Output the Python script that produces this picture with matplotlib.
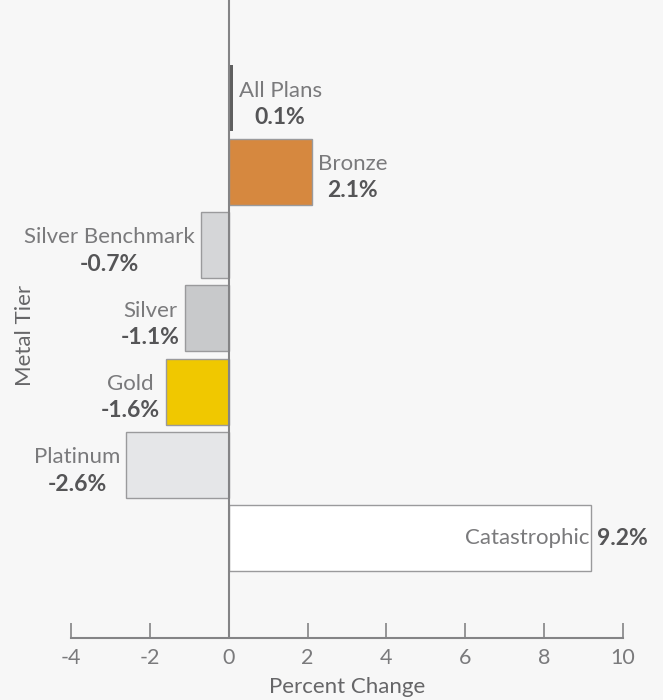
import numpy as np
import matplotlib.pyplot as plt

# Datos del gráfico
tiers = ['All Plans', 'Bronze', 'Silver Benchmark', 'Silver', 'Gold', 'Platinum', 'Catastrophic']
changes = [0.1, 2.1, -0.7, -1.1, -1.6, -2.6, 9.2]
bar_colors = ['#5f5f5f', '#d6883f', '#d5d6d8', '#c8c9cb', '#f0c800', '#e5e6e8', '#ffffff']
x_ticks = [-4, -2, 0, 2, 4, 6, 8, 10]

BG = '#f7f7f7'
NAME_COLOR = '#7a7a7c'
VALUE_COLOR = '#555557'
AXIS_COLOR = '#848486'
NAME_FS = 16
VALUE_FS = 16.5

plt.rcParams['font.family'] = ['Lato', 'DejaVu Sans']

fig = plt.figure(figsize=(6.63, 7.0), dpi=100, facecolor=BG)
ax = fig.add_axes([0, 62 / 700, 1, 638 / 700], facecolor=BG)

px_per_unit = 552 / 14
ax.set_xlim(-4 - 71 / px_per_unit, 10 + 40 / px_per_unit)
ax.set_ylim(7.36, -1.34)

renderer = fig.canvas.get_renderer()
blocks = []

for i, (name, val, col) in enumerate(zip(tiers, changes, bar_colors)):
    if name == 'All Plans':
        ax.barh(i, val, height=0.9, color=col, edgecolor='none', zorder=2)
    else:
        ax.barh(i, val, height=0.9, color=col, edgecolor='#9a9a9c', linewidth=1, zorder=2)

    label = f'{val:.1f}%'
    if name == 'Catastrophic':
        ax.text(val - 0.05, i, name, ha='right', va='center', fontsize=NAME_FS, color=NAME_COLOR)
        ax.text(val + 0.13, i, label, ha='left', va='center', fontsize=VALUE_FS,
                fontweight='bold', color=VALUE_COLOR)
        continue

    t_name = ax.text(val, i - 0.02, name, ha='center', va='baseline', fontsize=NAME_FS,
                     color=NAME_COLOR)
    t_val = ax.text(val, i + 0.12, label, ha='center', va='top', fontsize=VALUE_FS,
                    fontweight='bold', color=VALUE_COLOR)
    blocks.append((val, t_name, t_val))

# Colocar cada bloque de dos líneas junto al final de la barra
for val, t_name, t_val in blocks:
    w = max(t_name.get_window_extent(renderer).width,
            t_val.get_window_extent(renderer).width) / px_per_unit
    gap = 6 / px_per_unit
    cx = val + gap + w / 2 if val >= 0 else val - gap - w / 2
    t_name.set_x(cx)
    t_val.set_x(cx)

# Línea vertical en cero
ax.axvline(0, color=AXIS_COLOR, linewidth=1.5, zorder=3)

# Ejes
for side in ['left', 'right', 'top']:
    ax.spines[side].set_visible(False)
ax.spines['bottom'].set_bounds(-4, 10)
ax.spines['bottom'].set_color(AXIS_COLOR)
ax.spines['bottom'].set_linewidth(1.5)
ax.set_xticks(x_ticks)
ax.set_xticklabels([str(v) for v in x_ticks])
ax.tick_params(axis='x', direction='in', length=11, width=1.2, color=AXIS_COLOR,
               labelsize=15.5, labelcolor=NAME_COLOR, pad=7)
ax.set_yticks([])

fig.text(347 / 663, 3 / 700, 'Percent Change', ha='center', va='bottom', fontsize=16,
         color='#666668')
fig.text(25 / 663, 1 - 335 / 700, 'Metal Tier', rotation=90, ha='center',
         va='center', fontsize=16, color='#666668')

fig.savefig('out.png', dpi=100, facecolor=BG)
